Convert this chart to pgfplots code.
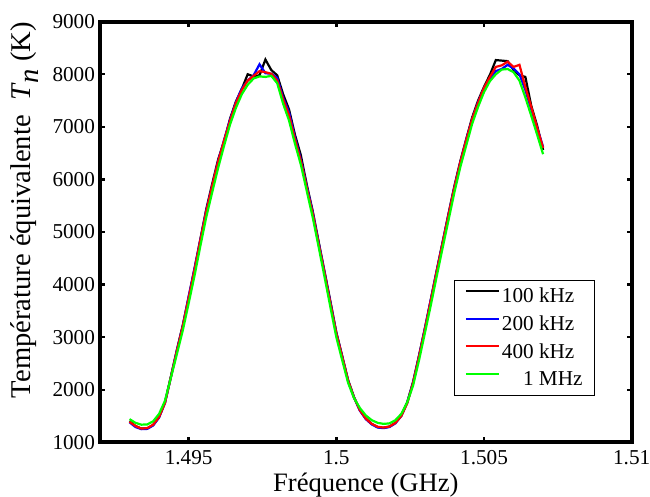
\documentclass[border=0pt]{standalone}
\usepackage{fontspec}
\setmainfont{Liberation Serif}
\usepackage{pgfplots}
\usepackage{pgfplotstable}
\pgfplotsset{compat=1.18}

% df: frequency offset from 1.5 GHz, in MHz
% a = 100 kHz, b = 200 kHz, c = 400 kHz, d = 1 MHz
\pgfplotstableread{
df    a     b     c     d
-7.0  1400  1380  1390  1440
-6.8  1310  1290  1310  1370
-6.6  1260  1250  1260  1335
-6.4  1265  1255  1270  1340
-6.2  1330  1320  1335  1400
-6.0  1480  1470  1480  1540
-5.8  1760  1750  1750  1790
-5.6  2250  2240  2240  2230
-5.4  2750  2740  2730  2670
-5.2  3220  3210  3200  3120
-5.0  3750  3770  3740  3640
-4.8  4300  4310  4280  4170
-4.6  4870  4860  4850  4740
-4.4  5440  5420  5400  5290
-4.2  5920  5880  5880  5760
-4.0  6380  6350  6340  6220
-3.8  6720  6750  6740  6640
-3.6  7150  7130  7110  7040
-3.4  7480  7470  7450  7360
-3.2  7720  7730  7700  7620
-3.0  8000  7880  7880  7800
-2.8  7960  7980  7970  7920
-2.6  7980  8190  8060  7960
-2.4  8280  8020  8040  7950
-2.2  8080  8010  8010  7970
-2.0  7980  7930  7880  7830
-1.8  7620  7550  7520  7440
-1.6  7330  7280  7220  7120
-1.4  6850  6800  6760  6680
-1.2  6460  6380  6350  6280
-1.0  5900  5870  5840  5780
-0.8  5400  5380  5350  5280
-0.6  4820  4800  4780  4720
-0.4  4250  4240  4220  4150
-0.2  3680  3660  3640  3570
0.0   3090  3080  3070  3000
0.2   2640  2630  2620  2560
0.4   2180  2170  2170  2130
0.6   1860  1850  1850  1840
0.8   1610  1600  1610  1650
1.0   1450  1440  1450  1510
1.2   1350  1340  1350  1420
1.4   1290  1280  1295  1370
1.6   1275  1270  1280  1350
1.8   1300  1290  1300  1360
2.0   1370  1360  1370  1420
2.2   1510  1500  1500  1540
2.4   1760  1750  1740  1760
2.6   2150  2140  2130  2080
2.8   2650  2640  2630  2560
3.0   3170  3170  3150  3080
3.2   3710  3720  3700  3610
3.4   4270  4260  4250  4160
3.6   4810  4800  4790  4700
3.8   5350  5340  5330  5230
4.0   5880  5860  5850  5760
4.2   6350  6330  6330  6240
4.4   6770  6760  6750  6650
4.6   7180  7150  7150  7060
4.8   7500  7470  7460  7380
5.0   7760  7740  7740  7660
5.2   7990  7920  7950  7870
5.4   8270  8060  8140  8000
5.6   8260  8100  8170  8090
5.8   8250  8180  8240  8100
6.0   8080  8110  8140  8040
6.2   7980  8000  8180  7880
6.4   7950  7700  7760  7560
6.6   7400  7330  7380  7210
6.8   7020  6980  6980  6850
7.0   6560  6620  6600  6480
}\tndata

\begin{document}
\begin{tikzpicture}
\begin{axis}[
    at={(0pt,0pt)}, anchor=south west,
    scale only axis,
    width=265.85pt, height=210.3pt,
    xmin=-8, xmax=10,
    ymin=1000, ymax=9000,
    xtick={-5,0,5,10},
    xticklabels={1.495,1.5,1.505,1.51},
    ytick={1000,2000,3000,4000,5000,6000,7000,8000,9000},
    yticklabels={1000,2000,3000,4000,5000,6000,7000,8000,9000},
    /pgf/number format/assume math mode=true,
    tick align=inside,
    major tick length=2.4pt,
    every tick/.style={black, line width=1.2pt},
    axis line style={line width=2pt},
    ticklabel style={font=\fontsize{10.6}{12}\selectfont},
    xticklabel style={anchor=base, yshift=-11pt},
    yticklabel style={anchor=east, xshift=1pt},
    xlabel={Fréquence (GHz)},
    xlabel style={at={(axis description cs:0.5,0)}, anchor=base, yshift=-24.8pt,
        font=\fontsize{13.3}{15}\selectfont},
    ylabel={Température équivalente \ \textit{T}\raisebox{-0.6ex}{\textit{n}} (K)},
    ylabel style={at={(axis description cs:-0.1298,0.552)}, anchor=base,
        font=\fontsize{14.3}{16}\selectfont},
    legend image code/.code={\draw[#1] (0pt,0.3em) -- (16.5pt,0.3em);},
    legend cell align=left,
    legend style={draw=black, line width=0.7pt,
        at={(0.6658,0.3859)}, anchor=north west,
        font=\fontsize{10.6}{12}\selectfont,
        inner xsep=5pt, inner ysep=2.7pt,
        nodes={inner sep=1pt},
        row sep=3pt,
        /tikz/every even column/.append style={column sep=4.5pt}},
]
\addplot[black, line width=1.1pt] table[x=df, y=a] {\tndata};
\addlegendentry{100 kHz}
\addplot[blue, line width=1.1pt] table[x=df, y=b] {\tndata};
\addlegendentry{200 kHz}
\addplot[red, line width=1.1pt] table[x=df, y=c] {\tndata};
\addlegendentry{400 kHz}
\addplot[green, line width=1.1pt] table[x=df, y=d] {\tndata};
\addlegendentry{\hphantom{00}1 MHz}
\end{axis}
\pgfresetboundingbox
\path[use as bounding box] (-50pt,-27.35pt) rectangle (275pt,221.15pt);
\end{tikzpicture}
\end{document}
